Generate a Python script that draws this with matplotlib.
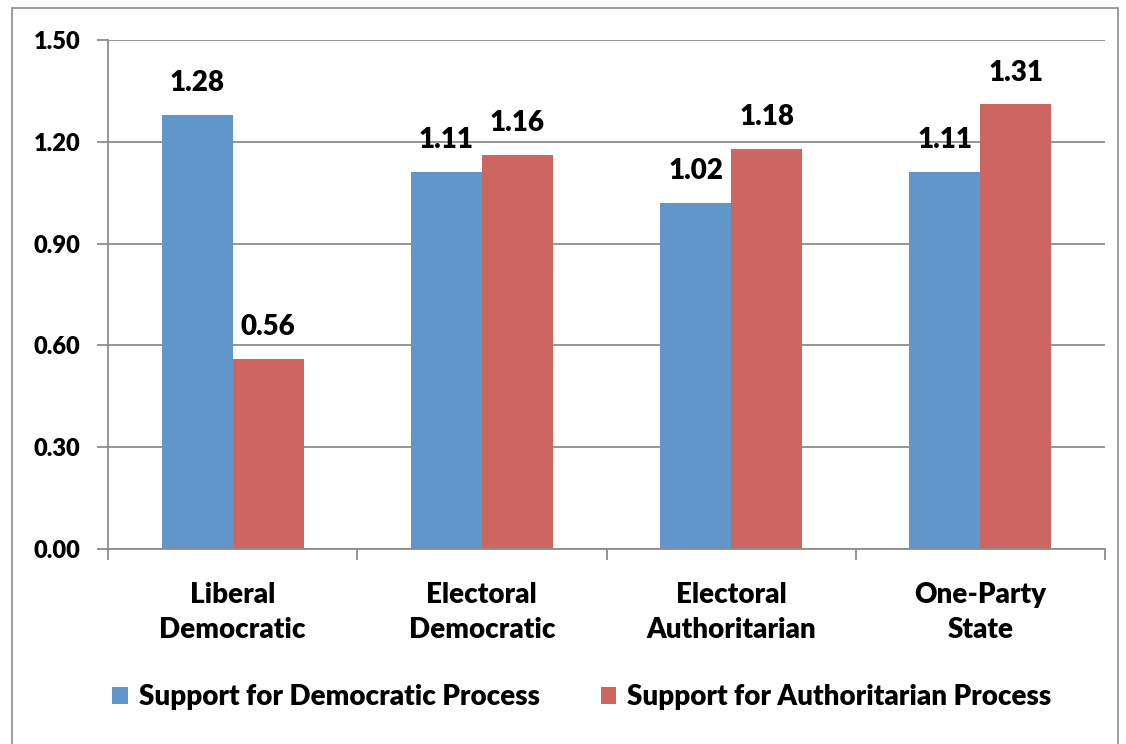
import matplotlib
matplotlib.use("Agg")
import matplotlib.pyplot as plt
from matplotlib.patches import Rectangle
import numpy as np

categories = ["Liberal\nDemocratic", "Electoral\nDemocratic", "Electoral\nAuthoritarian", "One-Party\nState"]
democratic = [1.28, 1.11, 1.02, 1.11]
authoritarian = [0.56, 1.16, 1.18, 1.31]
series_names = ["Support for Democratic Process", "Support for Authoritarian Process"]
yticks = [0.00, 0.30, 0.60, 0.90, 1.20, 1.50]

blue = "#6196CB"
red = "#CD6660"
grid_gray = "#8C8C8C"
weight = "heavy"

plt.rcParams["font.family"] = ["Lato", "DejaVu Sans"]
plt.rcParams["font.weight"] = weight

W, H = 1126, 744
fig = plt.figure(figsize=(W / 100, H / 100), dpi=100)

# chart frame
fig.patches.append(Rectangle((12 / W, -0.1), (1118 - 12) / W, 1.1 - 8 / H,
                             transform=fig.transFigure, fill=False,
                             edgecolor="#8C8C8C", linewidth=1.2))

ax = fig.add_axes([108 / W, 1 - 549 / H, (1105 - 108) / W, (549 - 40) / H])
x = np.arange(len(categories))
bw = 0.285
b1 = ax.bar(x - bw / 2, democratic, bw, color=blue, label=series_names[0])
b2 = ax.bar(x + bw / 2, authoritarian, bw, color=red, label=series_names[1])

for bars, vals in ((b1, democratic), (b2, authoritarian)):
    for bar, v in zip(bars, vals):
        ax.annotate(f"{v:.2f}", (bar.get_x() + bar.get_width() / 2, v),
                    xytext=(0, 23), textcoords="offset points",
                    ha="center", va="center", fontsize=20, fontweight=weight)

ax.set_xlim(-0.5, len(categories) - 0.5)
ax.set_ylim(0, 1.5)
ax.set_yticks(yticks)
ax.set_yticklabels([f"{t:.2f}" for t in yticks], fontsize=17, fontweight=weight)
ax.yaxis.grid(True, color=grid_gray, linewidth=1.3)
ax.set_axisbelow(True)

ax.set_xticks(np.arange(-0.5, len(categories), 1.0))
ax.set_xticklabels([])
ax.set_xticks(x, minor=True)
ax.set_xticklabels(categories, minor=True, fontsize=20, fontweight=weight, linespacing=1.42)
ax.tick_params(axis="x", which="minor", length=0, pad=24)
ax.tick_params(axis="x", which="major", length=8, color=grid_gray, width=1.3)
ax.tick_params(axis="y", length=8, color=grid_gray, width=1.3, pad=12)

for s in ("top", "right"):
    ax.spines[s].set_visible(False)
for s in ("left", "bottom"):
    ax.spines[s].set_color(grid_gray)
    ax.spines[s].set_linewidth(1.3)

fig.legend(handles=[b1, b2], labels=series_names, loc="center",
           bbox_to_anchor=(582 / W, 1 - 697 / H), ncol=2, frameon=False,
           prop={"size": 20, "weight": weight}, handlelength=0.55, handleheight=0.55,
           handletextpad=0.4, columnspacing=2.2)

fig.savefig("out.png", dpi=100)
